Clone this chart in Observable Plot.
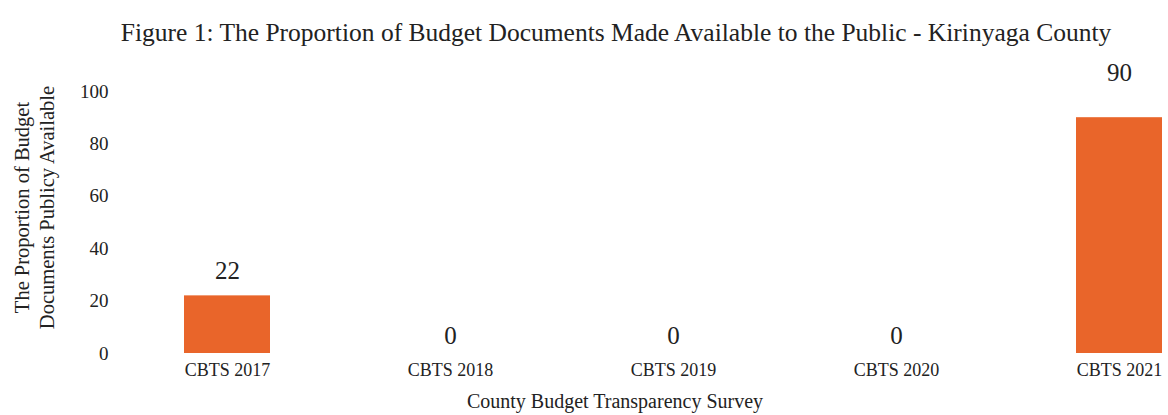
<!DOCTYPE html>
<html>
<head>
<meta charset="utf-8">
<script src="https://cdn.jsdelivr.net/npm/d3@7"></script>
<script src="https://cdn.jsdelivr.net/npm/@observablehq/plot@0.6"></script>
<style>
  html, body { margin: 0; padding: 0; background: #fff; }
  body { width: 1168px; height: 415px; overflow: hidden; font-family: "Liberation Serif", serif; }
  #title { height: 60px; line-height: 66px; font-size: 25.5px; color: #222; text-align: center; padding-left: 64px; box-sizing: border-box; white-space: nowrap; }
</style>
</head>
<body>
<div id="title">Figure 1: The Proportion of Budget Documents Made Available to the Public - Kirinyaga County</div>
<div id="chart"></div>
<script>
const surveys = ["CBTS 2017", "CBTS 2018", "CBTS 2019", "CBTS 2020", "CBTS 2021"];
const values = [22, 0, 0, 0, 90];
const yTicks = [0, 20, 40, 60, 80, 100];
const yLabel = "The Proportion of Budget\nDocuments Publicy Available";
const xLabel = "County Budget Transparency Survey";

const data = surveys.map((s, i) => ({survey: s, value: values[i]}));

const chart = Plot.plot({
  width: 1168,
  height: 355,
  marginLeft: 177,
  marginRight: 0,
  marginTop: 31,
  marginBottom: 62,
  style: {fontFamily: "Liberation Serif, serif", color: "#222", background: "#fff"},
  x: {domain: surveys, paddingInner: 0.616, paddingOuter: 0.022},
  y: {domain: [0, 100]},
  marks: [
    Plot.barY(data, {x: "survey", y: "value", fill: "#E9652A"}),
    Plot.axisY({ticks: yTicks, tickSize: 0, tickPadding: 69, fontSize: 19, label: null}),
    Plot.axisX({tickSize: 0, tickPadding: 10, fontSize: 18, label: null}),
    Plot.text([yLabel], {frameAnchor: "left", rotate: -90, dx: -144, dy: -15, fontSize: 20.5, lineHeight: 1.2, lineAnchor: "middle", textAnchor: "middle", fill: "#222"}),
    Plot.text([xLabel], {frameAnchor: "bottom", dx: -58, dy: 48, fontSize: 20, lineAnchor: "middle", textAnchor: "middle", fill: "#222"}),
    Plot.text(data.filter(d => d.value > 0 && d.value <= 50), {x: "survey", y: "value", text: d => String(d.value), dy: -25, fontSize: 25, lineAnchor: "middle", fill: "#222"}),
    Plot.text(data.filter(d => d.value === 0), {x: "survey", y: "value", text: d => String(d.value), dy: -18, fontSize: 25, lineAnchor: "middle", fill: "#222"}),
    Plot.text(data.filter(d => d.value > 50), {x: "survey", y: "value", text: d => String(d.value), dy: -45, fontSize: 25, lineAnchor: "middle", fill: "#222"})
  ]
});
document.getElementById("chart").appendChild(chart);
</script>
</body>
</html>
